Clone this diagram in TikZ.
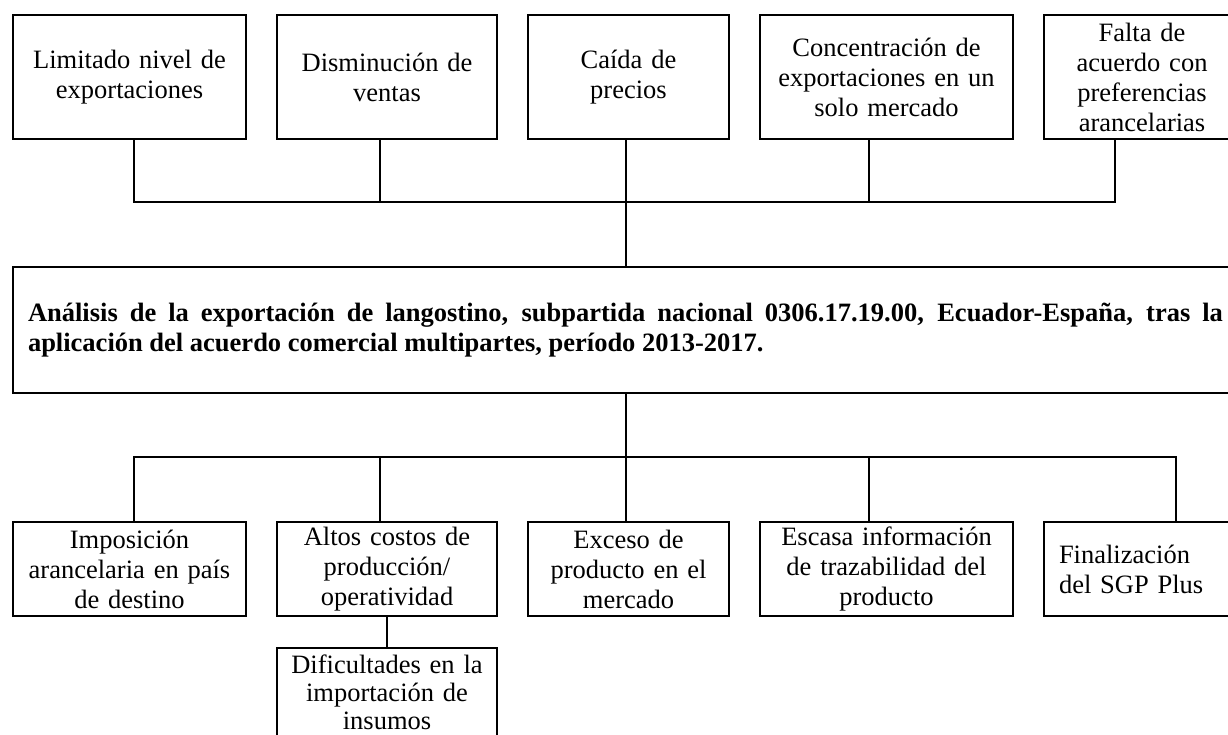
\documentclass[tikz,border=0pt]{standalone}
\usepackage{fontspec}
\setmainfont{Liberation Serif}
\usetikzlibrary{calc}

\begin{document}
\begin{tikzpicture}[x=1pt,y=-1pt,line width=2pt,
      every node/.style={inner sep=4pt,font=\fontsize{26.5}{30}\selectfont},
      caja/.style={draw,anchor=north west,align=center}]
  \useasboundingbox (0,0) rectangle (1228,734);
  % efectos
  \node[caja,text width=225pt,minimum height=124pt](t1) at (12,14){Limitado nivel de\\exportaciones};
  \node[caja,text width=212pt,minimum height=124pt](t2) at (276,14){Disminución de\\ventas};
  \node[caja,text width=193pt,minimum height=124pt](t3) at (527,14){Caída de\\precios};
  \node[caja,text width=245pt,minimum height=124pt](t4) at (759,14){Concentración de\\exportaciones en un\\solo mercado};
  \node[caja,text width=188pt,minimum height=124pt](t5) at (1043,14){Falta de\\acuerdo con\\preferencias\\arancelarias};
  % problema central
  \node[caja,text width=1195pt,inner xsep=15pt,minimum height=126pt,align=justify](prob) at (12,266)
    {\bfseries\hyphenpenalty=10000 \exhyphenpenalty=10000
     Análisis de la exportación de langostino, subpartida nacional 0306.17.19.00, Ecuador-España, tras la aplicación del acuerdo comercial multipartes, período 2013-2017.\par};
  % causas
  \node[caja,text width=225pt,minimum height=94pt](e1) at (12,521){Imposición\\arancelaria en país\\de destino};
  \node[caja,text width=212pt,minimum height=94pt](e2) at (276,521){Altos costos de\\producción/\\operatividad};
  \node[caja,text width=193pt,minimum height=94pt](e3) at (527,521){Exceso de\\producto en el\\mercado};
  \node[caja,text width=245pt,minimum height=94pt](e4) at (759,521){Escasa información\\de trazabilidad del\\producto};
  \node[caja,text width=166pt,inner xsep=15pt,minimum height=94pt,align=left](e5) at (1043,521){Finalización\\del SGP Plus};
  \node[caja,text width=212pt,minimum height=88pt,font=\fontsize{26.5}{28}\selectfont](e2a) at (276,647)
    {Dificultades en la\\importación de\\insumos};
  % conectores arriba
  \coordinate (u1) at (134,202);
  \coordinate (u2) at (380,202);
  \coordinate (u4) at (869,202);
  \coordinate (u5) at (1115,202);
  \draw (u1 |- t1.south)--(u1)--(u5)--(u5 |- t5.south);
  \draw (u2 |- t2.south)--(u2);
  \draw (u4 |- t4.south)--(u4);
  \draw (t3.south -| prob.north)--(prob.north);
  % conectores abajo
  \coordinate (v1) at (134,457);
  \coordinate (v2) at (380,457);
  \coordinate (v4) at (869,457);
  \coordinate (v5) at (1176,457);
  \draw (prob.south)--(prob.south |- e3.north);
  \draw (v1 |- e1.north)--(v1)--(v5)--(v5 |- e5.north);
  \draw (v2)--(v2 |- e2.north);
  \draw (v4)--(v4 |- e4.north);
  \draw (e2.south)--(e2a.north);
\end{tikzpicture}
\end{document}
